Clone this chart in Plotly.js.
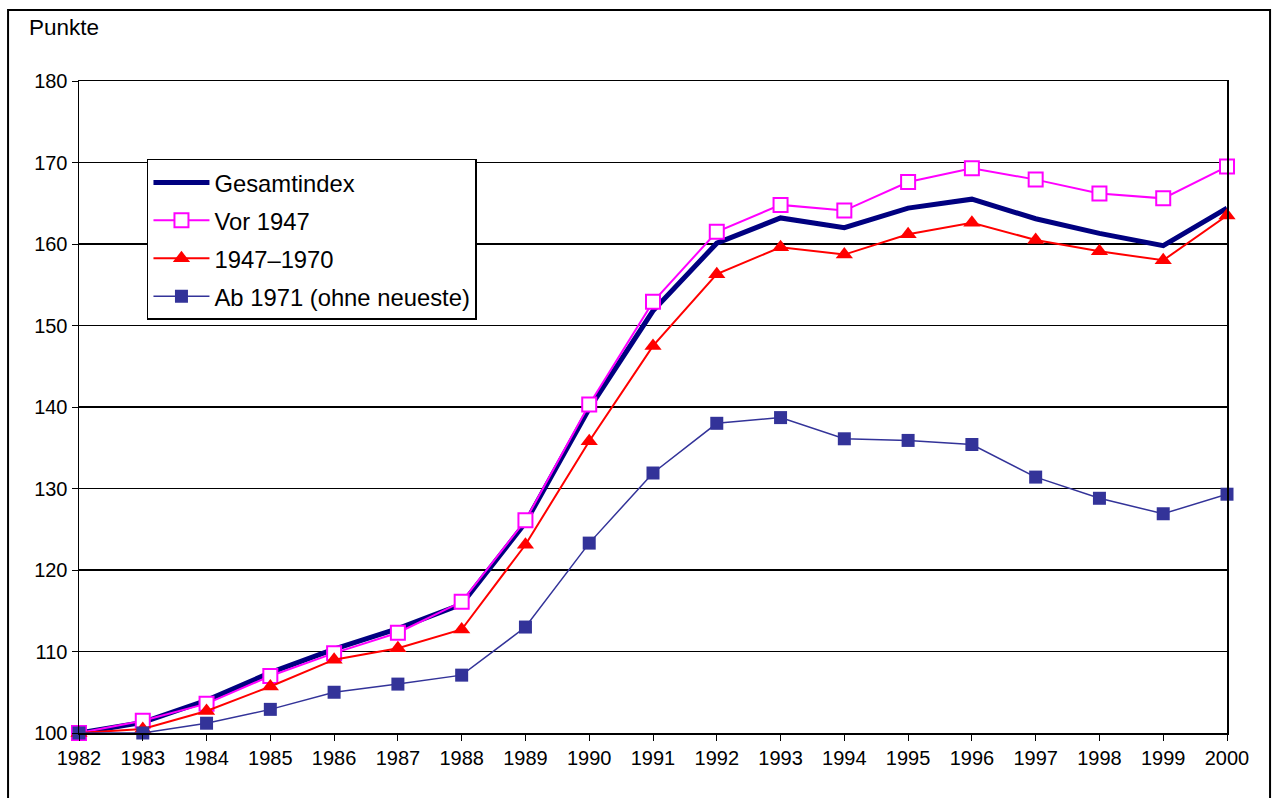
<!DOCTYPE html>
<html>
<head>
<meta charset="utf-8">
<script src="https://cdn.plot.ly/plotly-3.0.1.min.js"></script>
<style>
  html, body { margin: 0; padding: 0; background: #fff; }
  #chart { width: 1272px; height: 798px; }
</style>
</head>
<body>
<div id="chart"></div>
<script>
// Index values (1982 = 100) by building age
const years = [1982, 1983, 1984, 1985, 1986, 1987, 1988, 1989, 1990, 1991,
               1992, 1993, 1994, 1995, 1996, 1997, 1998, 1999, 2000];
const gesamtindex = [100, 101.3, 104.0, 107.4, 110.3, 112.8, 115.8, 125.8, 139.8, 151.8,
                     160.1, 163.2, 162.0, 164.4, 165.5, 163.1, 161.3, 159.8, 164.4];
const vor1947 = [100, 101.5, 103.6, 107.0, 109.8, 112.3, 116.1, 126.1, 140.3, 152.9,
                 161.5, 164.8, 164.1, 167.6, 169.3, 167.9, 166.2, 165.6, 169.5];
const zeit1947bis1970 = [100, 100.5, 102.7, 105.7, 109.0, 110.4, 112.7, 123.1, 135.8, 147.5,
                         156.3, 159.6, 158.7, 161.2, 162.6, 160.5, 159.1, 158.0, 163.5];
const ab1971 = [100, 100.0, 101.2, 102.9, 105.0, 106.0, 107.1, 113.0, 123.3, 131.9,
                138.0, 138.7, 136.1, 135.9, 135.4, 131.4, 128.8, 126.9, 129.3];
const seriesNames = ['Gesamtindex', 'Vor 1947', '1947\u20131970', 'Ab 1971 (ohne neueste)'];
const yTicks = [100, 110, 120, 130, 140, 150, 160, 170, 180];

const FONT = '"Liberation Sans", Arial, sans-serif';

const traces = [
  {
    x: years, y: gesamtindex, name: seriesNames[0], legendgroup: 'g1',
    type: 'scatter', mode: 'lines', cliponaxis: false,
    line: { color: '#000080', width: 5 }
  },
  {
    x: years, y: vor1947, name: seriesNames[1], legendgroup: 'g2',
    type: 'scatter', mode: 'lines+markers', cliponaxis: false,
    line: { color: '#FF00FF', width: 2 },
    marker: { symbol: 'square', size: 14, color: '#FFFFFF', line: { color: '#FF00FF', width: 2 } }
  },
  {
    x: years, y: zeit1947bis1970, name: seriesNames[2], legendgroup: 'g3',
    type: 'scatter', mode: 'lines+markers', cliponaxis: false,
    line: { color: '#FF0000', width: 2 },
    marker: { symbol: 'triangle-up', size: 15, color: '#FF0000' }
  },
  {
    x: years, y: ab1971, name: seriesNames[3], legendgroup: 'g4',
    type: 'scatter', mode: 'lines+markers', cliponaxis: false,
    line: { color: '#333399', width: 1.5 },
    marker: { symbol: 'square', size: 13, color: '#333399' }
  }
];

const layout = {
  width: 1272, height: 798,
  margin: { l: 79, r: 45, t: 81, b: 65 },
  paper_bgcolor: '#FFFFFF', plot_bgcolor: '#FFFFFF',
  font: { family: FONT, size: 20, color: '#000000' },
  showlegend: true,
  legend: {
    x: 0.0592, y: 0.8805, xanchor: 'left', yanchor: 'top',
    bgcolor: '#FFFFFF', bordercolor: '#000000', borderwidth: 1.5,
    font: { family: FONT, size: 23.8, color: '#000000' },
    traceorder: 'grouped', tracegroupgap: 4, itemwidth: 56
  },
  xaxis: {
    type: 'linear', range: [1982, 2000],
    tickmode: 'array', tickvals: years, ticktext: years.map(String),
    showgrid: false, zeroline: false,
    showline: true, linecolor: '#000000', linewidth: 1.5, mirror: true,
    ticks: 'outside', ticklen: 6, tickwidth: 1, tickcolor: '#000000',
    tickfont: { family: FONT, size: 20, color: '#000000' }
  },
  yaxis: {
    range: [100, 180],
    tickmode: 'array', tickvals: yTicks, ticktext: yTicks.map(String),
    showgrid: true, gridcolor: '#000000', gridwidth: 1.5, zeroline: false,
    showline: true, linecolor: '#000000', linewidth: 1.5, mirror: true,
    ticks: 'outside', ticklen: 6, tickwidth: 1, tickcolor: '#000000',
    tickfont: { family: FONT, size: 20, color: '#000000' }
  },
  annotations: [
    {
      text: 'Punkte', xref: 'paper', yref: 'paper',
      x: -0.0455, y: 1.0828, xanchor: 'left', yanchor: 'middle',
      showarrow: false, font: { family: FONT, size: 22.5, color: '#000000' }
    }
  ],
  shapes: [
    {
      // outer chart frame
      type: 'rect', xref: 'paper', yref: 'paper',
      x0: -0.0618, x1: 1.0375, y0: -0.12, y1: 1.1089,
      line: { color: '#000000', width: 2 }, fillcolor: 'rgba(0,0,0,0)', layer: 'below'
    }
  ]
};

Plotly.newPlot('chart', traces, layout, { staticPlot: true, displayModeBar: false });
</script>
</body>
</html>
